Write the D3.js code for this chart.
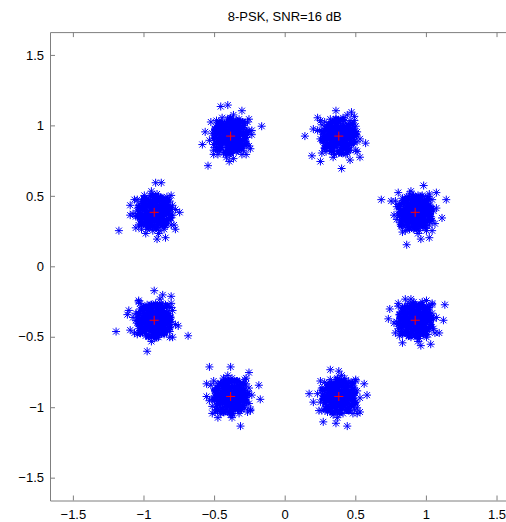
<!DOCTYPE html>
<html>
<head>
<meta charset="utf-8">
<script src="https://cdn.jsdelivr.net/npm/d3@7/dist/d3.min.js"></script>
<style>
  html, body { margin: 0; padding: 0; background: #fff; }
  svg { display: block; }
  text { font-family: "Liberation Sans", Arial, Helvetica, sans-serif; font-size: 13px; fill: #000; }
</style>
</head>
<body>
<script>
// Ideal 8-PSK constellation points (red '+')
const symI = [0.924, 0.383, -0.383, -0.924, -0.924, -0.383, 0.383, 0.924];
const symQ = [0.383, 0.924, 0.924, 0.383, -0.383, -0.924, -0.924, -0.383];

const offsets0 = [[0,0],[3,-2],[-4,3],[6,5],[-7,-4],[9,-1],[-2,8],[1,-9],[-10,2],[5,-7],[-5,-9],[8,8],[-8,7],[11,4],[-12,-1],[2,12],[-1,-12],[12,-6],[-6,11],[7,-11],[-11,-7],[4,2],[-3,-5],[6,-3],[-6,0],[2,5],[-2,-2],[10,-9],[-9,10],[13,1],[-13,4],[3,-13],[-4,13],[9,11],[-10,-10],[0,7],[0,-6],[7,1],[-8,-1],[4,9],[-4,-12],[11,-3],[-11,6],[5,12],[8,-13],[-7,-13],[12,9],[-13,-5],[1,3],[-1,-8],[5,-10],[-5,6],
  [15,3],[-15,-2],[2,-15],[-3,15],[14,-8],[-14,8],[10,13],[-9,-14],
  [-24,9],[22,9],[19,-4],[-6,-23],[4,-19],[10,-18],[6,19],[15,14],[-12,14],[-17,8],[12,-13]];
const offsets1 = [[1,1],[-3,2],[4,-3],[-5,-5],[7,3],[-8,1],[2,-8],[-1,9],[9,-6],[-9,-7],[5,9],[-6,8],[11,0],[-12,3],[0,-12],[3,13],[12,7],[-11,-4],[6,-12],[-4,-11],[8,11],[-10,10],[13,-4],[-13,-2],[-2,5],[2,-4],[5,4],[-5,-1],[7,-7],[-7,4],[10,5],[-9,-11],[1,10],[0,-5],[4,0],[-3,-8],[9,1],[-6,12],[12,-10],[-12,8],[3,7],[-1,-1],[6,-2],[-8,-4],[11,11],[-3,-13],[8,-10],[-10,0],[2,3],[-4,5],[13,3],[5,-13],
  [15,-2],[-15,4],[-4,-15],[6,15],[-13,11],[13,-11],[11,14],[-12,-12],
  [-24,0],[-15,13],[-19,-14],[-13,-18],[2,-23],[9,17],[19,-5],[15,-15],[8,-17],[-2,18],[-18,5]];
const offsets2 = [[-1,0],[2,3],[-4,-2],[5,-4],[-6,5],[8,2],[-3,-7],[3,8],[-9,-2],[10,-5],[-7,9],[1,-10],[7,7],[-11,4],[4,-11],[-2,12],[12,1],[-12,-6],[9,-10],[-8,-10],[6,12],[-10,11],[13,-7],[-13,2],[0,4],[3,-1],[-2,-4],[6,0],[-5,2],[2,-6],[-7,-5],[9,6],[-4,8],[11,-1],[-9,6],[5,-8],[-1,-13],[0,13],[12,10],[-12,-10],[8,-13],[-6,13],[3,5],[-3,1],[7,-3],[-8,-1],[10,9],[4,11],[-11,-8],[1,-3],[13,4],[-5,-12],
  [-15,-3],[15,1],[2,15],[-3,-15],[13,12],[-14,10],[11,-13],[-12,-13],
  [-16,-21],[22,7],[-2,22],[-7,21],[-18,3],[-20,-6],[-1,-18],[2,-16],[-9,-13],[14,-9],[8,18],[15,4]];
const offsets3 = [[0,1],[-2,-3],[4,2],[-5,4],[6,-5],[-7,-2],[3,-7],[-1,8],[9,3],[-10,-4],[8,-8],[-6,-9],[5,10],[-9,8],[12,-2],[-12,1],[1,-11],[-3,12],[11,8],[-11,-9],[7,-12],[-7,12],[13,5],[-13,-3],[2,-2],[-3,4],[5,-1],[-6,1],[1,5],[0,-6],[7,4],[-8,5],[10,-6],[-4,-6],[3,11],[-10,1],[8,0],[-5,-12],[12,-9],[-12,9],[2,13],[-1,-13],[9,11],[-9,-12],[4,-4],[-2,6],[6,7],[-7,-7],[11,2],[-11,5],[13,-2],[4,-13],
  [15,2],[-15,-1],[3,-15],[-2,15],[14,-9],[-13,-11],[12,12],[-14,9],
  [-25,-13],[15,-12],[2,-19],[8,-18],[18,0],[-17,5],[1,21],[5,21],[-17,-2],[-6,-15]];
const offsets4 = [[1,-1],[-2,2],[3,4],[-5,-3],[6,3],[-6,-6],[4,-6],[-3,7],[8,-3],[-9,1],[2,9],[-1,-10],[10,5],[-8,-9],[7,-10],[-10,8],[12,-1],[-12,-2],[5,12],[-5,11],[11,-8],[-11,-6],[0,-13],[1,12],[13,7],[-13,5],[0,3],[-3,-1],[5,0],[-4,4],[2,-4],[-7,2],[7,6],[-6,-11],[9,-7],[-2,-7],[4,8],[-9,-4],[10,0],[-10,12],[8,11],[-1,6],[3,-12],[-12,-10],[12,9],[6,-3],[-8,6],[11,-12],[-5,-1],[2,1],[-13,0],[9,4],
  [15,-3],[-15,2],[-2,-15],[4,15],[13,-12],[-14,-9],[12,12],[-11,13],
  [-27,-8],[24,-11],[-5,-22],[-17,-7],[-18,7],[-11,14],[0,21],[12,17],[6,18],[17,-4],[-19,4]];
const offsets5 = [[0,-1],[3,1],[-3,-3],[5,-5],[-6,4],[7,-1],[-4,7],[2,-8],[-8,-3],[9,6],[-10,-6],[4,10],[-2,-11],[10,-8],[-9,9],[12,2],[-12,-1],[6,-12],[-7,-12],[1,13],[11,9],[-11,5],[13,-5],[-13,-7],[-1,3],[2,-3],[-5,0],[5,3],[-2,-6],[6,-8],[-6,-8],[8,2],[-8,8],[3,7],[0,-13],[10,12],[-4,12],[12,-11],[-12,11],[7,9],[-3,-9],[4,-1],[-9,1],[9,-3],[1,6],[-1,-4],[6,5],[-7,-4],[11,-1],[-11,-11],[13,6],[-5,13],
  [15,1],[-15,-3],[1,-15],[-2,15],[14,-10],[-13,-12],[11,13],[-14,8],
  [-15,21],[13,17],[0,21],[21,-2],[20,8],[7,-21],[-9,-15],[-17,0],[-17,9],[14,-9]];
const offsets6 = [[1,0],[-2,-2],[3,-4],[-4,3],[6,2],[-7,-3],[2,7],[-3,-8],[8,-6],[-9,5],[5,9],[-5,-10],[10,1],[-11,-2],[0,11],[3,-12],[11,-9],[-10,10],[7,11],[-8,-11],[13,4],[-13,-4],[4,13],[-6,12],[12,-4],[-1,4],[2,-1],[-5,1],[4,4],[-3,-5],[7,-2],[-7,6],[9,8],[-9,-7],[1,-8],[-2,9],[10,-12],[-12,6],[6,-9],[-4,-13],[12,11],[-12,-10],[0,-3],[5,-6],[-6,-1],[8,3],[3,10],[-10,1],[11,6],[-1,13],[13,-8],[-8,2],
  [15,-1],[-15,2],[-1,-15],[2,15],[13,-12],[-14,-10],[12,12],[-13,11],
  [-6,19],[0,18],[-21,2],[6,-21],[-11,-18],[-2,-19],[20,1],[15,-11],[-18,-4],[18,9]];
const offsets7 = [[0,0],[2,-3],[-3,3],[5,2],[-5,-4],[7,-5],[-6,6],[1,8],[-2,-9],[9,3],[-9,-1],[6,-10],[-7,-9],[4,11],[-4,10],[11,-3],[-11,4],[10,9],[-10,-8],[3,-13],[-1,13],[13,1],[-13,-1],[8,-12],[1,2],[-2,-1],[4,-1],[-4,0],[3,5],[-1,-5],[6,6],[-6,-6],[8,-8],[-8,3],[2,-11],[-5,12],[12,5],[-12,-6],[10,-6],[-9,9],[5,13],[-3,-12],[12,11],[-12,10],[7,1],[-7,-2],[1,-6],[-2,6],[9,-10],[-11,-11],[13,-6],[6,9],
  [15,2],[-15,-2],[2,-15],[-3,15],[14,-9],[-14,-9],[12,12],[-12,12],
  [21,11],[17,-9],[20,0],[4,-18],[-7,15],[-19,1],[-18,8],[-9,-16],[8,14],[11,-17]];

// Extra samples filling the solid core of each cluster (same units)
const dense0 = [[1.5,-4.5],[-1,5],[4.5,1],[-4,-1.5],[7.5,-2],[-7,2.5],[2,7.5],[-2.5,-7],[9.5,5],[-9,-5.5],[5.5,-9],[-5,9.5],[3.5,-0.5],[-3,0.5],[0.5,3],[-0.5,-3.5],[6.5,8],[-6,-8.5],[8.5,-6],[-8.5,6.5],[10.5,-1],[-10,0.5],[1,10.5],[-0.5,-10],[2.5,2],[-2,-2.5],[2,-2],[-2.5,2],[5,5.5],[-5.5,-5],[5.5,-5],[-5,5],[11,-4.5],[-11.5,4],[4,11],[-4.5,-11],[8.5,2],[-8,-2.5],[2.5,-8],[-2,8.5],[7,-9.5],[-7.5,9],[9,9.5],[-9.5,-9],[11.5,2.5],[-11,-2],[-1.5,11.5],[1,-11.5],[3.5,-6],[-3.5,6],[6,-0.5],[-6.5,-0.5],[0,1.5],[1.5,0],[-1.5,-1],[3.5,4],[-4,-4],[6.5,3],[-6,3.5],[0.5,-6.5],[-0.5,6.5],[4,-3],[-4.5,-3],[3,-3.5]];
const dense1 = [[0.5,-3.5],[-2,4],[5,2],[-4.5,-0.5],[8,-1.5],[-6.5,3],[1.5,6.5],[-3,-6.5],[10,4.5],[-8.5,-6],[6,-8.5],[-4.5,10],[3,0.5],[-2.5,-0.5],[1,2.5],[-1,-2],[7,7.5],[-6.5,-7.5],[9,-5],[-9,5.5],[11,0.5],[-10.5,-0.5],[-0.5,11],[0.5,-10.5],[3.5,3],[-1.5,-4],[2.5,-1.5],[-3.5,3.5],[5.5,6],[-5,-6],[4.5,-6],[-6,6],[10.5,-4],[-11,3],[3,11.5],[-5,-10.5],[8,3.5],[-8.5,-1.5],[3,-9],[-1.5,7.5],[6.5,-10],[-7,8],[9.5,8.5],[-10,-8.5],[12,1.5],[-11.5,-3],[-2,12],[2,-12],[4,-5],[-3,5.5],[6.5,-1],[-7,0],[0,0.5],[2,0],[-1,-1.5],[4,3.5],[-4,-3],[7,2.5],[-5.5,2],[1,-5.5],[-1,5.5],[5,-3],[-5,-2.5],[2.5,-4]];
const dense2 = [[1,-5],[-1.5,3.5],[4,0.5],[-5,-2],[7,-3],[-8,2],[3,7],[-2,-8],[9,6],[-10,-5],[5,-10],[-6,9],[3,-1.5],[-3.5,1.5],[0,4],[-1,-4.5],[6,9],[-7,-8],[8,-7],[-9,7],[10,-2],[-10.5,1.5],[1.5,10],[-1.5,-11],[2,1.5],[-2.5,-1.5],[1.5,-3],[-3,2.5],[4.5,5],[-6,-4.5],[6,-5.5],[-4.5,4.5],[11,-5.5],[-11,5],[5,10.5],[-3.5,-11.5],[9,1.5],[-7.5,-3],[2,-9],[-2.5,9],[7.5,-8.5],[-8,9.5],[8.5,10],[-9,-9.5],[11.5,3],[-11.5,-1.5],[-0.5,12],[0,-12],[3,-6.5],[-4,6.5],[5.5,0],[-6,-1],[0.5,1],[1,-1],[-1.5,0],[3,3.5],[-3.5,-3.5],[6,3.5],[-6.5,4],[-0.5,-6],[0,7],[4.5,-2.5],[-4,-3.5],[3.5,-4]];
const dense3 = [[2,-4],[-1,5.5],[4.5,2],[-3.5,-2],[7,-1.5],[-7.5,3],[2.5,8],[-3,-7.5],[9,5.5],[-9.5,-5],[6,-9],[-5.5,9],[3,0],[-3.5,-0.5],[0,3.5],[0.5,-3],[7,8.5],[-5.5,-8],[8.5,-5.5],[-8,6],[10,-0.5],[-10,-1],[0.5,11],[-1,-10],[2,2.5],[-1.5,-2.5],[2.5,-2.5],[-2,1.5],[5.5,5],[-5,-5.5],[5,-4.5],[-5.5,5.5],[11.5,-4],[-11,3.5],[4.5,10.5],[-4,-10.5],[8,2.5],[-8.5,-3],[3,-8.5],[-2.5,8],[7.5,-9],[-7,9.5],[9.5,9],[-9,-8.5],[11,3],[-11.5,-2.5],[-1,11.5],[1.5,-11],[3,-5.5],[-3,6.5],[6.5,0],[-6,-0.5],[0.5,1],[1.5,-0.5],[-1,-1],[3.5,4.5],[-4.5,-4],[6,3],[-6.5,3.5],[0,-6],[-1,7],[4.5,-3],[-4,-3.5],[3,-3]];
const dense4 = [[1,-4],[-1.5,4.5],[5,1.5],[-4.5,-2],[7.5,-2.5],[-7,2],[2,7],[-2,-7.5],[9,5],[-9,-6],[5,-9.5],[-5.5,9],[3.5,-1],[-3,1],[1,3.5],[-1,-3.5],[6,8.5],[-6.5,-8],[8,-6.5],[-8.5,7],[10.5,-1.5],[-10.5,1],[1.5,10.5],[0,-10.5],[2.5,1.5],[-2.5,-2],[1.5,-2.5],[-2,2.5],[5,5],[-5,-5],[6,-5],[-5.5,4.5],[11,-5],[-11,4.5],[4,10.5],[-4,-11.5],[9,2],[-8,-2],[2,-8.5],[-2.5,9],[7,-9],[-7.5,9.5],[9,10],[-10,-9],[11.5,2],[-11,-2.5],[-2,11],[1.5,-12],[3.5,-5.5],[-3.5,5.5],[6,-1],[-6.5,0],[0.5,0.5],[1.5,0.5],[-1.5,-0.5],[3,4],[-3.5,-4.5],[6.5,2.5],[-6,3],[0,-6.5],[-0.5,6],[4,-2.5],[-5,-3],[3,-4]];
const dense5 = [[1.5,-3.5],[-1,4],[4,1.5],[-4,-1],[8,-2],[-7.5,1.5],[2.5,7],[-2,-7],[9.5,4.5],[-9,-5],[5,-9],[-5,10],[3.5,0],[-3,0],[0,3],[0,-3.5],[6.5,7.5],[-6,-9],[8.5,-6.5],[-9,6],[10.5,-0.5],[-10,1],[1,11],[-0.5,-11],[2,2],[-2,-3],[2.5,-1.5],[-3,2],[5,6],[-5.5,-4.5],[5.5,-6],[-4.5,5.5],[11,-4],[-11,4],[4.5,11],[-5,-11],[8.5,2.5],[-8,-3],[2,-8.5],[-2,8],[7.5,-9],[-7,9],[9,9],[-9.5,-9.5],[12,2],[-11.5,-2],[-1.5,11],[1,-12],[3,-6],[-3.5,6.5],[6.5,-0.5],[-6,-1],[0,1],[1.5,0.5],[-1,-1.5],[4,4],[-4,-4.5],[6.5,3.5],[-6,3],[1,-6],[-1,6],[4.5,-3],[-4.5,-2.5],[2.5,-4.5]];
const dense6 = [[1.5,-5],[-1.5,4],[4,2],[-4.5,-1],[7,-2],[-7,3],[2,8],[-3,-7],[10,5],[-9.5,-4.5],[6,-9.5],[-5,9],[3,-0.5],[-3.5,1],[0.5,4],[-0.5,-4],[6,8],[-7,-8.5],[9,-6],[-8,6],[10,-1.5],[-10.5,0],[0.5,10],[-1,-10.5],[2.5,2.5],[-2,-2],[2,-3],[-2.5,1.5],[5.5,5],[-5,-6],[5,-5],[-6,5],[11.5,-4.5],[-11.5,4.5],[3.5,11],[-4.5,-11],[8,1.5],[-8.5,-2],[2.5,-8],[-2,9],[7,-10],[-7.5,8.5],[9.5,9.5],[-9,-9],[11,2.5],[-11,-1.5],[-1,12],[0.5,-11.5],[3.5,-6.5],[-3.5,6],[6,0],[-6.5,-1],[0,1.5],[1,0],[-1.5,-1.5],[3.5,3.5],[-3.5,-4],[6.5,3],[-6,4],[0.5,-6.5],[-1,6.5],[4,-3.5],[-4.5,-3.5],[3,-3]];
const dense7 = [[1,-4.5],[-1,5],[4.5,1],[-4,-2],[7.5,-1.5],[-7,2],[2.5,7.5],[-2.5,-8],[9,5.5],[-10,-5],[5.5,-9],[-5.5,9],[3.5,-1],[-3.5,0],[0.5,3.5],[-1,-3],[7,8],[-6.5,-8],[8,-6],[-9,6.5],[10.5,-0.5],[-10.5,1],[1,10.5],[0,-10.5],[2,2],[-2.5,-2],[2,-2.5],[-2,2],[5,5],[-5,-5],[5,-5.5],[-5.5,5],[11,-4.5],[-11,4],[4.5,11],[-4.5,-11],[8.5,2],[-8,-2.5],[2.5,-8.5],[-2.5,8.5],[7,-9.5],[-7.5,9],[9,9],[-9,-9.5],[11.5,2],[-11.5,-2.5],[-1.5,11.5],[1.5,-11.5],[3.5,-5.5],[-3,6],[6,-1],[-6,-0.5],[0,1],[1.5,-0.5],[-1.5,-1],[3.5,4],[-4,-4],[6.5,3],[-6.5,3],[0.5,-6],[-0.5,6.5],[4,-3],[-4.5,-3],[3,-3.5]];

const xTicks = [-1.5, -1, -0.5, 0, 0.5, 1, 1.5];
const yTicks = [-1.5, -1, -0.5, 0, 0.5, 1, 1.5];
const titleText = "8-PSK, SNR=16 dB";

const scatterSets = [offsets0, offsets1, offsets2, offsets3, offsets4, offsets5, offsets6, offsets7];
const denseSets = [dense0, dense1, dense2, dense3, dense4, dense5, dense6, dense7];
const toPoints = sets => {
  const out = [];
  sets.forEach((arr, k) => arr.forEach(([dx, dy]) => out.push({ i: symI[k] + dx / 100, q: symQ[k] + dy / 100 })));
  return out;
};
const received = toPoints(scatterSets);
const receivedCore = toPoints(denseSets);
const symbols = symI.map((v, k) => ({ i: v, q: symQ[k] }));

const W = 506, H = 522;
const L = 50, R = 519.4, T = 32.1, B = 500.5;
const x = d3.scaleLinear().domain([-1.662, 1.662]).range([L, R]);
const y = d3.scaleLinear().domain([-1.662, 1.662]).range([B, T]);

const svg = d3.select("body").append("svg").attr("width", W).attr("height", H);
svg.append("rect").attr("width", W).attr("height", H).attr("fill", "#fff");

// markers
const star = "M-4,0H4M0,-4V4M-3,-3L3,3M-3,3L3,-3";
const plus = "M-4.5,0H4.5M0,-4.5V4.5";
svg.append("g").selectAll("path").data(received).join("path")
  .attr("d", star)
  .attr("transform", d => `translate(${x(d.i)},${y(d.q)})`)
  .attr("fill", "none").attr("stroke", "#0000ff").attr("stroke-width", 1);
svg.append("g").selectAll("path").data(receivedCore).join("path")
  .attr("d", star)
  .attr("transform", d => `translate(${x(d.i)},${y(d.q)})`)
  .attr("fill", "none").attr("stroke", "#0000ff").attr("stroke-width", 1.8);
svg.append("g").selectAll("path").data(symbols).join("path")
  .attr("d", plus)
  .attr("transform", d => `translate(${x(d.i)},${y(d.q)})`)
  .attr("fill", "none").attr("stroke", "#ff0000").attr("stroke-width", 1);

// axes (MATLAB box style, inward ticks)
const axCol = "#7f7f7f";
const gBottom = svg.append("g").attr("transform", `translate(0,${B})`)
  .call(d3.axisBottom(x).tickValues(xTicks).tickSizeInner(-5).tickSizeOuter(0).tickPadding(9).tickFormat(d3.format("")));
const gTop = svg.append("g").attr("transform", `translate(0,${T})`)
  .call(d3.axisTop(x).tickValues(xTicks).tickSizeInner(-5).tickSizeOuter(0).tickFormat(""));
const gLeft = svg.append("g").attr("transform", `translate(${L},0)`)
  .call(d3.axisLeft(y).tickValues(yTicks).tickSizeInner(-5).tickSizeOuter(0).tickPadding(6).tickFormat(d3.format("")));
const gRight = svg.append("g").attr("transform", `translate(${R},0)`)
  .call(d3.axisRight(y).tickValues(yTicks).tickSizeInner(-5).tickSizeOuter(0).tickFormat(""));
[gBottom, gTop, gLeft, gRight].forEach(g => {
  g.selectAll("path.domain").attr("stroke", axCol);
  g.selectAll(".tick line").attr("stroke", axCol);
  g.selectAll("text").attr("font-size", 13).attr("font-family", "Liberation Sans, Arial, sans-serif").attr("fill", "#000");
});

svg.append("text").attr("x", x(0)).attr("y", 20.5).attr("text-anchor", "middle").text(titleText);
</script>
</body>
</html>
